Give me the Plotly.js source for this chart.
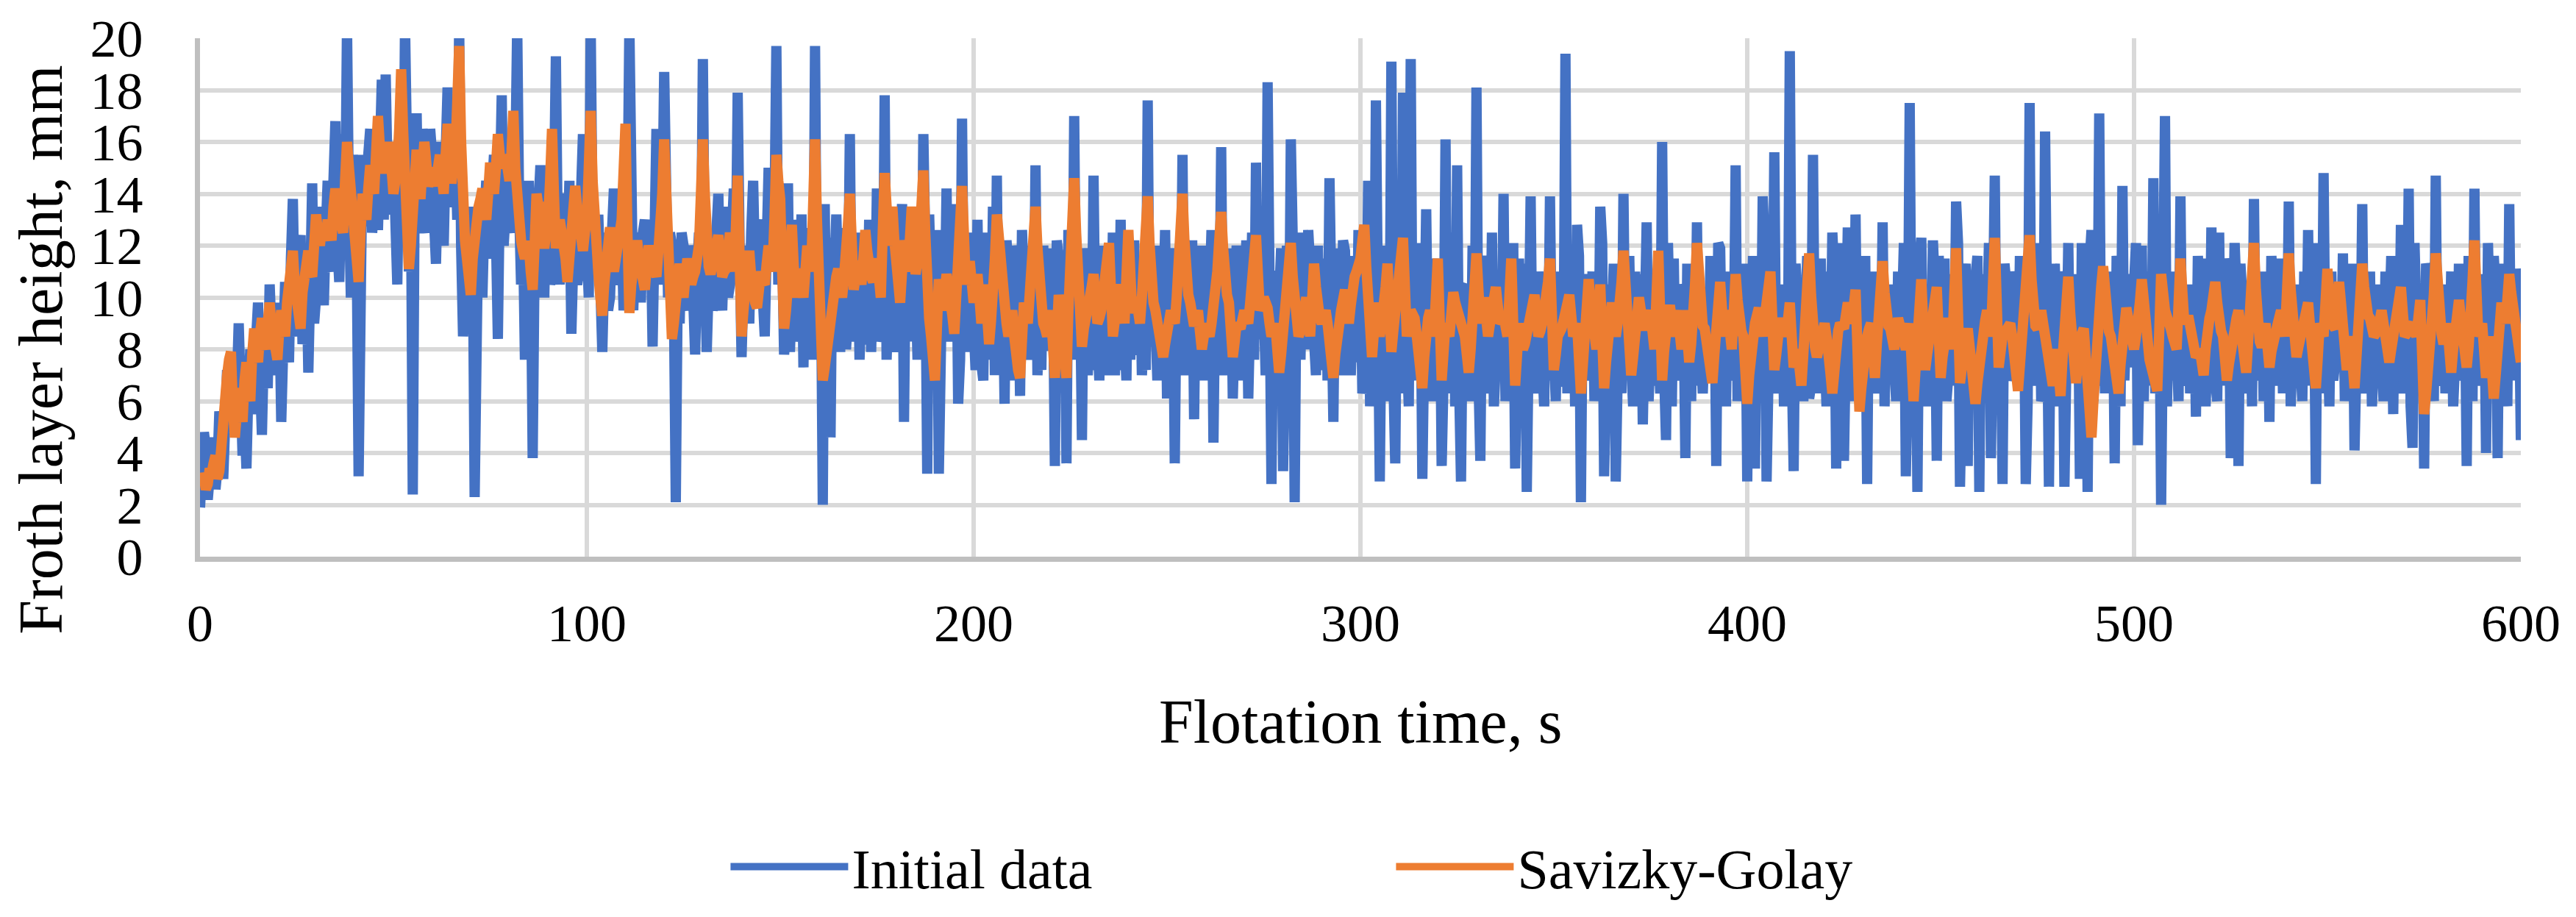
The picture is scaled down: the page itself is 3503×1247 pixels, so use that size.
<!DOCTYPE html>
<html>
<head>
<meta charset="utf-8">
<script src="https://cdn.plot.ly/plotly-3.0.1.min.js"></script>
<style>
html, body { margin: 0; padding: 0; background: #ffffff; }
</style>
</head>
<body>
<div id="chart" style="width:3503px;height:1247px"></div>
<script>
// tick positions
const xTicks = [0, 100, 200, 300, 400, 500, 600];
const yTicks = [0, 2, 4, 6, 8, 10, 12, 14, 16, 18, 20];

// readings every 0.5 s, t = 0..600 s (one row = 10 s)
const initialData = [
1.9,3.0, 4.8,4.2, 2.2,3.1, 4.4,4.6, 2.6,3.4, 5.6,4.9, 3.0,5.8, 7.2,6.4, 5.5,4.8, 7.9,6.5,
9.0,6.0, 3.9,5.5, 3.4,6.5, 8.0,5.5, 6.5,8.5, 9.8,7.0, 4.7,8.0, 8.5,6.5, 10.5,8.5, 7.0,9.5,
8.0,9.8, 5.2,8.0, 10.6,8.5, 7.5,11.5, 13.8,9.5, 8.5,11.8, 12.4,8.2, 9.0,11.5, 7.1,10.5, 14.4,9.0,
10.0,13.5, 12.5,10.5, 9.7,12.5, 14.5,11.5, 11.0,14.5, 16.8,12.0, 10.6,14.0, 16.3,12.5, 20.5,13.5, 10.0,15.5,
14.0,12.0, 3.1,12.5, 15.5,13.0, 12.8,15.5, 16.5,12.5, 13.5,16.0, 12.6,15.5, 18.4,13.0, 18.6,14.5, 13.2,15.0,
16.0,13.0, 10.5,16.0, 14.5,12.0, 20.5,14.0, 11.0,15.0, 2.4,14.5, 17.1,12.5, 13.0,16.5, 15.5,13.0, 12.5,16.5,
15.5,13.0, 11.3,14.5, 16.0,13.0, 12.0,15.5, 18.1,13.5, 14.0,16.5, 16.0,13.0, 20.5,12.0, 8.5,10.5, 12.0,13.5,
11.0,12.5, 2.3,11.0, 13.5,11.5, 10.0,13.0, 14.5,11.5, 12.5,14.0, 15.5,12.5, 8.4,14.0, 17.8,12.0, 13.0,14.5,
16.0,13.0, 12.5,15.0, 20.5,13.5, 10.5,12.5, 7.6,11.0, 14.5,12.0, 3.8,11.5, 12.0,13.5, 15.1,12.0, 10.0,14.0,
13.0,10.5, 11.0,14.0, 19.3,12.0, 10.5,13.5, 14.0,11.0, 11.5,14.5, 8.6,11.5, 13.5,10.5, 11.0,14.0, 16.3,11.0,
12.0,10.0, 20.5,12.5, 11.0,13.0, 13.0,10.5, 7.9,11.0, 12.5,9.5, 10.0,12.5, 14.2,11.0, 10.5,13.0, 12.5,9.5,
11.0,13.0, 20.5,11.5, 9.5,12.0, 12.5,10.0, 10.0,12.5, 13.0,10.5, 11.5,13.0, 8.1,12.0, 16.5,10.5, 11.5,13.0,
18.7,11.5, 10.0,12.5, 12.0,10.0, 2.1,10.5, 9.0,12.5, 12.0,10.0, 9.5,12.0, 11.5,10.0, 7.8,11.0, 12.5,10.5,
19.2,11.0, 7.9,10.5, 12.5,9.5, 10.0,12.5, 14.0,10.5, 9.5,12.0, 13.5,10.0, 10.5,12.5, 14.2,11.0, 17.9,12.0,
7.7,10.5, 12.0,10.0, 9.0,12.5, 14.5,11.0, 10.5,12.5, 13.0,10.0, 8.5,12.0, 15.0,11.5, 11.0,13.0, 19.7,10.5,
12.0,12.0, 7.8,8.8, 14.4,7.9, 10.0,9.2, 13.0,8.3, 9.0,13.2, 7.3,12.6, 12.5,8.6, 10.5,7.6, 19.7,8.8,
12.0,11.7, 2.0,13.6, 7.0,12.3, 4.6,12.0, 11.0,13.2, 9.5,7.9, 12.5,12.6, 8.0,9.2, 16.3,8.3, 10.5,8.6,
12.5,7.6, 9.5,11.7, 8.2,8.8, 13.0,7.9, 11.0,9.2, 14.2,8.3, 8.3,8.6, 17.8,7.6, 10.0,8.8, 12.5,7.9,
9.5,9.2, 12.0,13.6, 5.2,12.3, 11.0,8.3, 13.5,8.6, 10.5,7.6, 13.0,8.8, 16.3,12.0, 3.2,13.2, 11.0,7.9,
10.5,12.6, 3.2,11.7, 12.0,9.2, 14.2,8.3, 9.5,8.6, 11.5,13.6, 5.9,7.6, 16.9,8.8, 10.0,7.9, 12.5,9.2,
9.0,7.2, 13.0,8.1, 7.5,6.8, 12.5,7.6, 10.0,8.4, 13.5,7.0, 14.7,7.2, 8.0,11.0, 5.9,12.2, 11.0,8.1,
9.5,6.8, 12.0,11.6, 6.2,12.6, 10.5,10.8, 8.5,7.6, 12.0,8.4, 15.1,7.0, 9.0,7.2, 12.0,8.1, 8.0,11.9,
10.5,11.0, 3.5,12.2, 11.5,6.8, 9.0,11.6, 3.6,12.6, 12.0,7.6, 17.0,8.4, 9.5,10.8, 4.5,11.9, 11.0,7.0,
9.0,7.2, 14.7,8.1, 8.5,6.8, 12.0,7.6, 10.0,11.0, 7.0,8.4, 12.5,7.0, 9.0,7.2, 13.0,8.1, 8.5,6.8,
12.0,7.6, 9.5,12.2, 7.8,8.4, 11.5,7.0, 9.0,7.2, 17.6,8.1, 10.0,11.6, 8.0,6.8, 12.0,7.6, 9.0,12.6,
6.1,10.8, 11.0,11.9, 3.6,11.0, 10.0,8.4, 15.5,7.0, 9.0,7.2, 11.5,12.2, 5.3,11.6, 10.5,8.1, 12.0,6.8,
8.5,7.6, 11.0,12.6, 4.4,10.8, 9.5,8.4, 15.8,7.0, 8.5,7.2, 11.5,11.9, 6.1,11.0, 12.0,8.1, 9.0,6.8,
11.0,12.2, 6.1,11.6, 12.5,7.6, 15.2,8.4, 9.0,12.6, 8.0,7.0, 18.3,7.2, 2.8,10.8, 11.0,8.1, 9.5,11.9,
3.3,11.0, 12.0,6.8, 16.1,12.2, 2.1,11.6, 10.0,7.6, 12.5,8.4, 8.0,12.6, 11.0,10.8, 7.5,7.0, 12.0,7.2,
9.0,8.1, 11.5,6.8, 14.6,7.6, 5.2,11.9, 10.0,11.0, 7.0,12.2, 11.8,8.4, 8.5,7.0, 11.0,11.6, 7.5,12.6,
11.5,6.3, 7.0,7.2, 14.5,5.8, 9.0,6.8, 17.6,7.5, 2.9,10.4, 12.0,6.0, 7.5,6.6, 19.1,7.0, 3.6,11.6,
12.0,6.3, 17.9,7.2, 8.0,5.8, 19.2,6.8, 10.5,10.9, 7.0,12.1, 3.0,10.2, 13.4,7.5, 9.0,6.0, 11.5,6.6,
7.5,11.3, 3.5,7.0, 16.1,6.3, 9.0,7.2, 12.5,5.8, 15.1,6.8, 2.9,10.4, 10.5,7.5, 8.0,6.0, 12.0,6.6,
18.1,7.0, 3.7,11.6, 11.0,6.3, 8.0,7.2, 12.5,5.8, 7.5,6.8, 11.0,7.5, 14.0,6.0, 9.0,10.9, 8.5,12.1,
3.4,10.2, 11.5,6.6, 9.0,11.3, 2.5,10.4, 13.9,7.0, 8.5,6.3, 11.0,7.2, 7.5,5.8, 10.5,6.8, 13.9,7.5,
8.0,6.0, 11.0,6.6, 7.0,7.0, 19.4,6.3, 9.5,7.2, 11.0,5.8, 12.8,11.6, 2.1,10.9, 10.0,6.8, 8.0,7.5,
11.0,6.0, 9.0,6.6, 13.5,12.1, 3.1,10.2, 10.5,7.0, 8.5,11.3, 2.9,10.4, 11.0,6.3, 14.0,7.2, 9.0,11.6,
7.5,5.8, 11.0,6.8, 9.0,10.9, 5.1,7.5, 12.9,6.0, 8.0,6.6, 10.5,7.0, 8.5,6.3, 16.0,7.2, 4.5,12.1,
10.0,5.8, 11.5,6.8, 8.0,7.5, 10.5,10.2, 3.8,11.3, 9.5,6.0, 11.0,6.6, 12.9,7.0, 8.0,6.3, 10.0,10.4,
7.0,11.6, 9.5,10.9, 3.5,12.1, 11.9,7.2, 9.0,5.8, 11.0,6.8, 8.0,7.5, 15.1,6.0, 10.0,10.2, 6.5,11.3,
2.9,10.4, 8.0,11.6, 3.4,10.9, 9.0,6.6, 13.9,12.1, 2.9,10.2, 11.0,7.0, 15.6,6.3, 8.5,7.2, 10.5,5.8,
8.0,6.8, 19.5,7.5, 3.3,11.3, 10.0,10.4, 7.5,6.0, 11.0,11.6, 6.1,6.6, 15.5,7.0, 9.0,6.3, 11.5,7.2,
8.0,5.8, 11.0,6.8, 12.5,10.9, 3.4,12.1, 9.0,10.2, 3.7,11.3, 12.7,7.5, 8.5,6.0, 13.2,6.6, 7.0,10.4,
10.5,11.6, 2.8,10.9, 9.0,7.0, 11.0,6.3, 8.0,7.2, 12.9,5.8, 9.5,6.8, 10.5,7.5, 7.5,6.0, 11.0,6.6,
8.5,12.1, 3.1,7.0, 17.5,6.3, 10.0,10.2, 2.5,11.3, 12.3,7.2, 8.0,5.8, 10.5,6.8, 12.2,10.4, 3.7,11.6,
9.0,7.5, 11.5,6.0, 7.0,10.9, 10.0,6.6, 13.7,12.1, 2.7,10.2, 10.5,11.3, 3.5,10.4, 9.0,7.0, 10.7,11.6,
2.5,10.9, 9.0,6.3, 11.0,12.1, 3.8,7.2, 14.7,5.8, 8.0,10.2, 2.8,11.3, 10.5,6.8, 7.5,7.5, 11.0,10.4,
6.5,11.6, 9.0,10.9, 2.8,6.0, 17.5,6.6, 8.0,7.0, 11.0,12.1, 6.0,6.3, 16.4,7.2, 2.7,10.2, 10.0,11.3,
7.5,5.8, 11.0,10.4, 2.7,11.6, 12.1,6.8, 8.5,7.5, 10.0,10.9, 3.0,12.1, 9.5,10.2, 2.5,11.3, 12.6,6.0,
8.0,6.6, 17.1,7.0, 9.5,6.3, 11.0,7.2, 7.0,10.4, 3.6,11.6, 11.0,5.8, 14.3,6.8, 9.0,10.9, 7.5,7.5,
10.5,12.1, 4.3,10.2, 12.0,6.0, 9.0,6.6, 11.0,7.0, 14.6,6.3, 8.0,11.3, 2.0,7.2, 17.0,5.8, 9.0,6.8,
11.0,7.5, 8.5,6.0, 13.9,6.6, 7.5,7.0, 10.5,6.3, 9.0,10.4, 5.4,11.6, 10.0,7.2, 11.5,5.8, 8.0,6.8,
12.7,7.5, 7.0,6.0, 12.5,6.6, 9.0,7.0, 11.5,10.9, 3.8,12.1, 12.1,10.2, 3.5,11.3, 10.0,6.3, 8.5,7.2,
10.5,5.8, 13.8,6.8, 8.0,7.5, 11.0,6.0, 7.5,10.4, 5.2,11.6, 10.5,6.6, 8.0,7.0, 11.5,6.3, 9.0,7.2,
13.7,5.8, 8.0,6.8, 10.5,7.5, 7.5,6.0, 11.0,6.6, 12.6,7.0, 8.0,10.9, 2.8,12.1, 10.5,6.3, 14.8,7.2,
8.5,5.8, 11.0,6.8, 7.5,10.2, 10.0,7.5, 11.7,6.0, 8.0,6.6, 10.5,11.3, 4.1,10.4, 11.0,7.0, 13.6,6.3,
8.5,7.2, 11.0,5.8, 7.5,6.8, 10.5,7.5, 8.0,6.0, 11.0,6.6, 9.0,11.6, 5.5,10.9, 9.5,7.0, 12.8,6.3,
8.0,7.2, 14.2,5.8, 4.2,12.1, 10.5,6.8, 8.0,10.2, 3.4,11.3, 11.0,7.5, 9.0,6.0, 14.7,6.6, 7.5,7.0,
10.5,6.3, 8.0,7.2, 11.0,5.8, 7.5,6.8, 11.3,7.5, 9.0,10.4, 3.5,11.6, 10.0,6.0, 14.2,6.6, 8.0,7.0,
10.0,10.9, 4.0,12.1, 9.0,6.3, 11.6,10.2, 3.8,11.3, 10.0,7.2, 8.0,5.8, 13.6,6.8, 9.0,7.5, 11.1,10.4,
4.5
];

const savitzkyGolay = [
2.7,3.2, 3.0,2.6, 2.8,3.4, 3.2,3.6, 3.9,3.0, 3.3,4.2, 5.5,6.5, 7.0,7.6, 7.9,5.8, 4.6,5.5,
6.5,5.8, 5.2,6.8, 7.5,6.5, 6.0,7.8, 8.8,8.0, 7.5,8.6, 9.2,8.3, 8.0,9.0, 9.8,8.9, 8.5,8.0,
7.6,8.8, 9.5,9.0, 8.5,9.8, 10.5,11.2, 11.8,10.5, 9.5,9.0, 8.8,10.2, 11.0,11.5, 11.8,11.0, 10.8,12.0,
13.2,12.5, 12.0,12.8, 12.5,12.2, 13.0,12.6, 12.2,13.5, 14.2,13.5, 13.0,12.8, 12.5,14.5, 16.0,15.0, 14.0,13.0,
12.5,11.5, 10.6,12.5, 14.0,13.5, 13.0,14.2, 15.1,14.5, 14.0,15.5, 17.0,15.8, 14.8,15.2, 15.5,15.0, 16.0,15.0,
14.0,14.5, 15.0,16.5, 18.8,16.5, 14.5,12.5, 11.1,12.0, 13.5,14.8, 15.7,14.5, 13.8,15.0, 16.0,15.2, 14.3,14.5,
15.0,14.6, 14.3,15.0, 15.5,14.7, 14.0,15.5, 16.7,15.5, 14.4,15.0, 15.5,17.5, 19.7,16.0, 13.0,12.2, 11.5,10.8,
10.1,11.5, 12.5,13.0, 13.5,13.8, 14.2,13.5, 13.0,14.0, 15.2,14.5, 14.0,15.0, 16.3,15.5, 15.0,15.2, 15.5,15.0,
14.5,15.5, 17.2,15.0, 13.5,12.8, 12.2,11.8, 11.5,12.0, 12.0,11.0, 10.3,12.0, 14.0,13.5, 13.5,12.5, 11.9,12.5,
13.0,14.5, 16.5,14.0, 11.9,12.5, 13.0,12.6, 12.4,11.5, 10.6,11.5, 12.0,13.0, 14.3,13.5, 12.5,12.0, 11.8,12.5,
13.0,15.0, 17.2,14.5, 12.5,11.5, 10.9,10.0, 9.3,10.5, 11.5,12.0, 12.7,11.8, 11.0,11.5, 11.8,12.5, 13.0,14.5,
16.7,12.5, 9.4,10.5, 11.0,11.8, 12.2,11.5, 11.0,10.5, 10.3,11.2, 12.0,11.6, 11.4,11.0, 10.8,11.8, 12.5,14.0,
16.1,13.5, 11.5,9.8, 8.4,9.0, 10.0,10.8, 11.3,10.5, 10.0,10.8, 11.5,11.0, 10.5,10.8, 11.0,11.5, 12.0,14.0,
16.1,14.0, 12.0,11.2, 10.9,11.3, 11.5,12.0, 12.4,11.5, 10.8,11.0, 11.1,11.8, 12.5,11.6, 11.0,12.5, 14.7,11.5,
8.5,9.5, 10.5,11.2, 11.8,10.8, 10.0,9.8, 9.6,10.3, 11.0,10.6, 10.5,11.3, 12.0,11.5, 11.0,13.0, 15.5,14.5,
13.8,11.0, 8.8,9.5, 10.5,11.8, 12.8,11.2, 10.0,10.6, 11.1,10.5, 10.0,11.0, 12.0,11.5, 11.0,13.5, 16.1,13.0,
10.5,8.5, 6.8,7.3, 8.0,8.8, 9.5,10.0, 10.5,10.8, 11.1,10.5, 10.0,10.8, 11.5,12.8, 14.0,12.0, 10.3,10.8,
11.4,11.0, 10.5,11.5, 12.6,11.8, 11.0,10.8, 10.6,11.0, 11.5,10.8, 10.0,12.5, 14.8,13.5, 12.0,12.8, 13.5,12.2,
11.0,10.4, 9.8,11.0, 12.2,11.6, 11.0,12.2, 13.5,12.2, 10.9,11.4, 12.0,13.5, 14.9,12.5, 10.0,9.2, 8.5,7.5,
6.8,8.8, 10.7,10.1, 9.5,10.2, 10.9,10.4, 10.0,9.3, 8.6,9.8, 11.0,12.5, 14.3,12.4, 10.5,11.0, 11.4,10.6,
9.8,10.3, 10.9,10.0, 9.0,9.8, 10.5,9.3, 8.2,9.1, 10.0,11.5, 13.2,12.1, 11.0,10.3, 9.6,9.0, 8.5,9.0,
9.5,8.5, 7.5,7.2, 6.9,8.3, 9.8,9.4, 9.0,10.0, 11.0,12.2, 13.5,11.9, 10.3,9.6, 9.0,8.8, 8.5,9.0,
9.5,8.2, 6.9,8.5, 10.1,9.3, 8.5,7.7, 6.9,9.5, 12.0,13.3, 14.6,12.5, 10.5,9.3, 8.1,8.8, 9.5,9.7,
10.0,10.4, 10.9,10.0, 9.0,9.2, 9.5,10.0, 10.5,11.3, 12.1,10.3, 8.5,9.1, 9.8,10.1, 10.5,9.8, 9.0,10.8,
12.6,11.0, 9.4,9.7, 10.0,9.5, 9.0,10.0, 11.0,12.4, 13.9,12.0, 10.2,9.8, 9.5,9.0, 8.5,8.1, 7.7,8.2,
8.8,9.1, 9.5,9.2, 9.0,10.0, 11.0,12.5, 14.0,12.2, 10.5,10.1, 9.8,9.3, 8.9,9.2, 9.5,8.7, 8.0,8.5,
9.0,8.7, 8.5,9.0, 9.5,10.2, 11.0,12.2, 13.3,11.9, 10.5,10.1, 9.8,8.7, 7.7,8.3, 9.0,8.9, 8.8,9.1,
9.5,9.2, 9.0,9.8, 10.5,11.5, 12.4,10.9, 9.5,9.7, 10.0,9.8, 9.6,9.0, 8.5,8.7, 9.0,8.0, 7.1,7.8,
8.5,9.2, 10.0,11.0, 12.1,10.8, 9.5,9.0, 8.5,8.7, 9.0,9.5, 10.0,9.2, 8.5,9.9, 11.3,10.4, 9.5,9.2,
9.0,9.2, 9.5,9.0, 8.5,7.7, 6.9,7.8, 8.8,9.1, 9.5,9.9, 10.3,9.6, 9.0,9.7, 10.5,10.8, 11.0,11.2,
11.5,12.2, 12.8,11.2, 9.5,8.6, 7.7,8.7, 9.8,9.1, 8.5,9.0, 9.5,10.4, 11.3,9.6, 7.9,8.7, 9.5,10.0,
10.5,11.4, 12.3,10.4, 8.5,9.0, 9.5,9.3, 9.2,8.6, 8.0,7.2, 6.5,7.7, 9.0,9.2, 9.5,9.0, 8.5,10.0,
11.5,9.1, 6.8,7.9, 9.0,8.7, 8.5,9.3, 10.2,9.8, 9.5,9.3, 9.2,8.8, 8.5,7.8, 7.1,8.0, 9.0,10.3,
11.7,10.3, 9.0,9.5, 10.0,9.2, 8.5,9.0, 9.5,9.9, 10.4,9.7, 9.0,9.1, 9.3,8.9, 8.5,10.0, 11.5,9.0,
6.6,7.8, 9.0,8.5, 8.0,8.2, 8.5,9.0, 9.5,9.8, 10.1,9.3, 8.5,8.7, 9.0,9.4, 9.8,10.6, 11.5,9.3,
7.2,7.8, 8.5,8.6, 8.8,9.1, 9.5,9.8, 10.1,9.3, 8.5,8.7, 9.0,7.6, 6.3,7.4, 8.5,9.6, 10.7,9.8,
9.0,8.5, 8.0,9.2, 10.5,8.5, 6.5,7.5, 8.5,9.1, 9.8,9.1, 8.5,9.0, 9.5,10.6, 11.8,10.4, 9.0,8.0,
7.0,7.7, 8.5,9.2, 10.0,9.5, 9.0,8.9, 8.9,9.2, 9.5,8.7, 8.0,9.9, 11.8,9.3, 6.8,7.9, 9.0,9.3,
9.7,9.1, 8.5,9.0, 9.5,8.7, 8.0,8.7, 9.5,8.5, 7.5,8.2, 9.0,10.5, 12.1,10.5, 9.0,8.9, 8.8,8.4,
8.0,7.3, 6.7,7.8, 9.0,9.8, 10.6,9.5, 8.5,9.0, 9.5,8.7, 8.0,9.4, 10.9,9.9, 9.0,8.7, 8.5,7.2,
5.9,7.0, 8.2,8.6, 9.0,9.3, 9.6,9.0, 8.5,9.2, 10.0,10.5, 11.0,9.1, 7.2,7.8, 8.5,8.8, 9.2,8.8,
8.5,9.1, 9.8,8.5, 7.3,7.6, 8.0,7.3, 6.6,7.8, 9.0,10.3, 11.7,10.1, 8.5,8.1, 7.7,8.1, 8.5,8.8,
9.0,8.5, 8.0,7.1, 6.3,7.4, 8.5,8.7, 9.0,8.9, 8.8,9.3, 9.8,9.4, 9.0,9.6, 10.3,8.0, 5.6,6.5,
7.5,8.0, 8.5,8.8, 9.0,8.0, 6.9,8.2, 9.5,10.4, 11.4,10.2, 9.0,8.9, 8.8,8.4, 8.0,8.6, 9.2,8.9,
8.7,8.3, 8.0,8.5, 9.0,7.5, 6.0,7.2, 8.5,9.6, 10.7,9.0, 7.2,7.8, 8.5,8.8, 9.0,9.7, 10.4,8.6,
6.9,7.7, 8.5,8.9, 9.2,8.6, 8.0,10.0, 11.9,9.3, 6.7,7.3, 8.0,8.4, 8.8,8.1, 7.5,6.7, 5.9,6.7,
7.5,8.1, 8.8,9.1, 9.5,9.0, 8.5,10.4, 12.3,9.8, 7.3,7.9, 8.5,8.6, 8.8,8.9, 9.0,8.5, 8.0,7.2,
6.4,7.4, 8.5,9.1, 9.8,11.1, 12.4,10.7, 9.0,8.9, 8.8,9.1, 9.5,9.0, 8.5,8.2, 8.0,7.3, 6.6,7.3,
8.0,7.1, 6.2,7.6, 9.0,9.9, 10.8,9.4, 8.0,7.3, 6.7,7.6, 8.5,8.6, 8.8,7.9, 7.0,5.8, 4.6,6.0,
7.5,8.5, 9.6,10.4, 11.2,10.1, 9.0,8.7, 8.5,8.0, 7.5,6.9, 6.3,7.4, 8.5,9.0, 9.6,9.2, 8.8,8.4,
8.0,8.5, 9.0,9.8, 10.7,9.6, 8.5,8.0, 7.6,7.3, 7.0,6.7, 6.4,8.6, 10.9,10.2, 9.5,9.3, 9.2,8.8,
8.5,8.2, 8.0,9.7, 11.5,10.2, 9.0,9.1, 9.3,8.9, 8.5,8.1, 7.7,7.8, 8.0,7.5, 7.0,8.0, 9.0,9.2,
9.5,10.0, 10.6,9.8, 9.0,8.7, 8.5,7.6, 6.8,7.4, 8.0,8.4, 8.9,9.2, 9.5,8.7, 8.0,7.5, 7.1,8.3,
9.5,10.8, 12.1,10.3, 8.5,8.3, 8.1,8.5, 9.0,8.1, 7.3,7.9, 8.5,8.7, 8.9,9.2, 9.5,9.0, 8.5,10.1,
11.7,10.3, 9.0,8.3, 7.7,8.1, 8.5,8.7, 9.0,9.4, 9.8,8.9, 8.0,7.2, 6.5,7.7, 9.0,8.7, 8.5,9.8,
11.1,10.0, 9.0,8.9, 8.8,9.7, 10.6,9.8, 9.0,8.1, 7.2,7.8, 8.5,7.5, 6.5,7.7, 9.0,10.1, 11.3,10.4,
9.5,9.3, 9.2,8.8, 8.5,8.6, 8.8,9.1, 9.5,9.0, 8.5,8.0, 7.5,8.0, 8.5,8.7, 9.0,9.7, 10.4,9.4,
8.5,8.6, 8.8,8.9, 9.0,8.7, 8.5,9.2, 9.9,7.7, 5.5,6.3, 7.2,7.8, 8.5,10.1, 11.7,10.3, 9.0,8.6,
8.2,8.6, 9.0,8.0, 7.1,8.0, 9.0,9.4, 9.9,9.2, 8.5,7.9, 7.3,8.1, 9.0,10.6, 12.2,10.3, 8.5,8.7,
9.0,7.9, 6.9,7.7, 8.5,7.3, 6.1,7.0, 8.0,8.9, 9.8,9.4, 9.0,9.9, 10.9,10.2, 9.5,9.0, 8.6,8.0,
7.5
];

const serif = "'Liberation Serif', 'DejaVu Serif', serif";

const traces = [
    {
        type: "scatter",
        mode: "lines",
        name: "Initial data",
        x0: 0,
        dx: 0.5,
        y: initialData,
        line: {color: "#4472C4", width: 14}
    },
    {
        type: "scatter",
        mode: "lines",
        name: "Savizky-Golay",
        x0: 0,
        dx: 0.5,
        y: savitzkyGolay,
        line: {color: "#ED7D31", width: 14}
    }
];

const layout = {
    width: 3503,
    height: 1247,
    margin: {l: 272, r: 75, t: 52, b: 488},
    paper_bgcolor: "#ffffff",
    plot_bgcolor: "#ffffff",
    font: {family: serif, color: "#000000", size: 72},
    showlegend: true,
    legend: {
        orientation: "h",
        x: 0.227,
        xanchor: "left",
        y: -0.598,
        yanchor: "middle",
        font: {family: serif, size: 76, color: "#000000"},
        entrywidth: 730,
        entrywidthmode: "pixels",
        itemwidth: 160
    },
    xaxis: {
        range: [0, 600],
        tickvals: xTicks,
        ticks: "",
        showgrid: true,
        gridcolor: "#D9D9D9",
        gridwidth: 6,
        zeroline: false,
        showline: true,
        linecolor: "#BFBFBF",
        linewidth: 7,
        tickfont: {family: serif, size: 72, color: "#000000"},
        ticklabelstandoff: 22
    },
    yaxis: {
        range: [0, 20],
        tickvals: yTicks,
        ticks: "",
        showgrid: true,
        gridcolor: "#D9D9D9",
        gridwidth: 6,
        zeroline: false,
        showline: true,
        linecolor: "#BFBFBF",
        linewidth: 7,
        tickfont: {family: serif, size: 72, color: "#000000"},
        ticklabelstandoff: 56
    },
    annotations: [
        {
            text: "Flotation time, s",
            xref: "paper", yref: "paper",
            x: 0.5, y: -0.318,
            xanchor: "center", yanchor: "middle",
            showarrow: false,
            font: {family: serif, size: 84, color: "#000000"}
        },
        {
            text: "Froth layer height, mm",
            xref: "paper", yref: "paper",
            x: -0.0688, y: 0.400,
            xanchor: "center", yanchor: "middle",
            textangle: -90,
            showarrow: false,
            font: {family: serif, size: 84, color: "#000000"}
        }
    ]
};

Plotly.newPlot("chart", traces, layout, {staticPlot: true, displayModeBar: false});
</script>
</body>
</html>
